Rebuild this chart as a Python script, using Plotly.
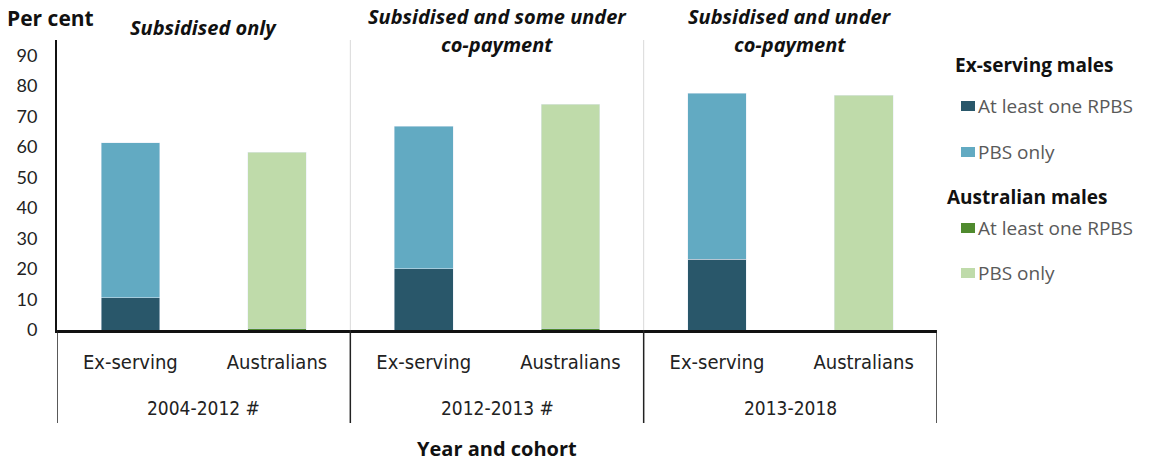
import plotly.graph_objects as go

periods = ["2004-2012 #", "2012-2013 #", "2013-2018"]
cohorts = ["Ex-serving", "Australians"]
phase_titles = [["Subsidised only"],
                ["Subsidised and some under", "co-payment"],
                ["Subsidised and under", "co-payment"]]

ex_rpbs = [10.5, 20.0, 23.2]
ex_pbs_only = [50.8, 46.8, 54.4]
au_rpbs = [0.6, 0.5, 0.0]
au_pbs_only = [57.6, 73.5, 76.9]

y_ticks = [0, 10, 20, 30, 40, 50, 60, 70, 80, 90]

C_EX_RPBS = "#29576A"
C_EX_PBS = "#62AAC2"
C_AU_RPBS = "#4F8A2E"
C_AU_PBS = "#BFDBAA"

FONT = "Lato, 'Open Sans', sans-serif"
WIDE = "'Open Sans', sans-serif"
NARROW = "'DejaVu Sans Condensed', 'Liberation Sans Narrow', sans-serif"

W, H = 1149, 462
PL, PR, PT, PB = 57, 937, 40, 330  # plot area in pixels

def px_x(px):
    return (px - PL) / (PR - PL)

def px_y(py):
    return (PB - py) / (PB - PT)

n = len(periods)
x_ex = [2 * i for i in range(n)]
x_au = [2 * i + 1 for i in range(n)]

fig = go.Figure()
fig.add_bar(x=x_ex, y=ex_rpbs, marker_color=C_EX_RPBS, width=0.4, showlegend=False)
fig.add_bar(x=x_ex, y=ex_pbs_only, marker_color=C_EX_PBS, width=0.4, showlegend=False)
fig.add_bar(x=x_au, y=au_rpbs, marker_color=C_AU_RPBS, width=0.4, showlegend=False)
fig.add_bar(x=x_au, y=au_pbs_only, marker_color=C_AU_PBS, width=0.4, showlegend=False)

shapes = []
for i in range(1, n):
    xb = 2 * i - 0.5
    shapes.append(dict(type="line", xref="x", yref="paper", x0=xb, x1=xb, y0=0, y1=1,
                       line=dict(color="#D9D9D9", width=1)))
for i in range(n + 1):
    xb = 2 * i - 0.5
    shapes.append(dict(type="line", xref="x", yref="paper", x0=xb, x1=xb, y0=0, y1=px_y(423),
                       line=dict(color="#222222", width=1.5)))

annotations = []
for i, p in enumerate(periods):
    annotations.append(dict(x=2 * i + 0.5, y=px_y(408), xref="x", yref="paper", text=p,
                            yanchor="middle", showarrow=False,
                            font=dict(family=NARROW, size=19, color="#222222")))
for i, lines in enumerate(phase_titles):
    ys = [28] if len(lines) == 1 else [16, 44]
    for line, ypx in zip(lines, ys):
        annotations.append(dict(x=2 * i + 0.5, y=px_y(ypx), xref="x", yref="paper",
                                yanchor="middle", text="<b><i>" + line + "</i></b>",
                                showarrow=False, align="center",
                                font=dict(family=WIDE, size=20, color="#111111")))
annotations.append(dict(x=px_x(5), y=px_y(18), xref="paper", yref="paper", text="<b>Per cent</b>",
                        xanchor="left", yanchor="middle", showarrow=False,
                        font=dict(family=WIDE, size=21, color="#111111")))
annotations.append(dict(x=0.5, y=px_y(448), xref="paper", yref="paper", text="<b>Year and cohort</b>",
                        yanchor="middle", showarrow=False,
                        font=dict(family=WIDE, size=20, color="#111111")))

legend_items = [
    ("title", "Ex-serving males", None, 65),
    ("item", "At least one RPBS", C_EX_RPBS, 106),
    ("item", "PBS only", C_EX_PBS, 152),
    ("title", "Australian males", None, 197),
    ("item", "At least one RPBS", C_AU_RPBS, 228),
    ("item", "PBS only", C_AU_PBS, 273),
]
for kind, txt, col, ypx in legend_items:
    if kind == "title":
        x0 = 953 if "Ex" in txt else 945
        annotations.append(dict(x=px_x(x0), y=px_y(ypx), xref="paper", yref="paper", xanchor="left",
                                yanchor="middle", text="<b>" + txt + "</b>", showarrow=False,
                                font=dict(family=WIDE, size=19, color="#111111")))
    else:
        shapes.append(dict(type="rect", xref="paper", yref="paper",
                           x0=px_x(961), x1=px_x(975), y0=px_y(ypx + 5), y1=px_y(ypx - 5),
                           fillcolor=col, line=dict(width=0)))
        annotations.append(dict(x=px_x(976), y=px_y(ypx), xref="paper", yref="paper", xanchor="left",
                                yanchor="middle", text=txt, showarrow=False,
                                font=dict(family=WIDE, size=19, color="#595959")))

fig.update_layout(
    barmode="stack",
    width=W, height=H,
    margin=dict(l=PL, r=W - PR, t=PT, b=H - PB),
    plot_bgcolor="white", paper_bgcolor="white",
    shapes=shapes,
    annotations=annotations,
    showlegend=False,
    xaxis=dict(range=[-0.5, 2 * n - 0.5], tickvals=x_ex + x_au,
               ticktext=[cohorts[0]] * n + [cohorts[1]] * n,
               showline=True, linecolor="#111111", linewidth=2.5, showgrid=False,
               ticks="", ticklabelstandoff=12, zeroline=False,
               tickfont=dict(family=NARROW, size=20, color="#222222")),
    yaxis=dict(range=[0, 95], tickvals=y_ticks, showline=True, linecolor="#111111", linewidth=2,
               showgrid=False, ticks="", zeroline=False, ticklabelstandoff=14,
               tickfont=dict(family=FONT, size=18, color="#222222")),
)

fig.write_html("out.html")
